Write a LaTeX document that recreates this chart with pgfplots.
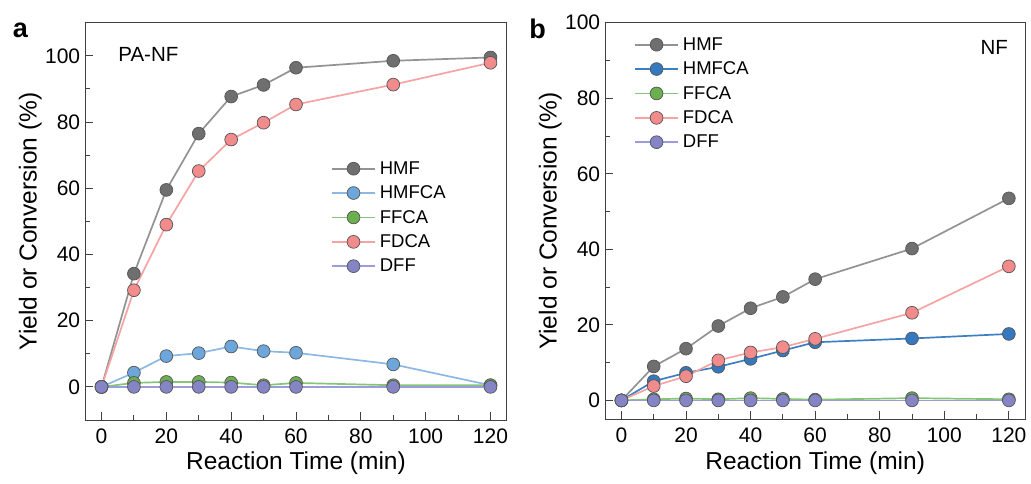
\documentclass[border=0pt]{standalone}
\usepackage{fontspec}
\setmainfont{Liberation Sans}
\usepackage{pgfplots}
\usepackage{pgfplotstable}
\pgfplotsset{compat=1.18}

\definecolor{axc}{HTML}{404040}
\definecolor{edg}{HTML}{555555}
\definecolor{hmfL}{HTML}{939393}\definecolor{hmfF}{HTML}{6F6F6F}
\definecolor{hcaL}{HTML}{8DB8E3}\definecolor{hcaF}{HTML}{6CA6DB}
\definecolor{hcbL}{HTML}{3C7FC2}\definecolor{hcbF}{HTML}{3479C0}
\definecolor{ffL}{HTML}{86C47A}\definecolor{ffF}{HTML}{6AB04F}
\definecolor{fdL}{HTML}{F5A3A3}\definecolor{fdF}{HTML}{F28B8B}
\definecolor{dfL}{HTML}{9C9CD8}\definecolor{dfF}{HTML}{8585C6}

\pgfplotstableread{
t hmf hmfca ffca fdca dff
0 0 0 0 0 0
10 34.2 4.3 1.2 29.2 0
20 59.5 9.3 1.5 49.0 0
30 76.5 10.2 1.5 65.2 0
40 87.7 12.2 1.3 74.7 0
50 91.2 10.8 0.5 79.8 0
60 96.4 10.3 1.2 85.3 0
90 98.5 6.8 0.5 91.3 0
120 99.5 0.5 0.5 97.9 0
}\tabA

\pgfplotstableread{
t hmf hmfca ffca fdca dff
0 0 0 0 0 0
10 9.0 5.1 0.3 3.8 0
20 13.7 7.3 0.5 6.4 0
30 19.7 8.9 0.3 10.6 0
40 24.4 11.0 0.6 12.7 0
50 27.4 13.2 0.4 14.1 0
60 32.1 15.4 0.2 16.3 0
90 40.2 16.4 0.6 23.2 0
120 53.5 17.6 0.3 35.5 0
}\tabB

\pgfplotsset{
  base/.style={scale only axis, xmin=-5, xmax=125, xtick={0,20,...,120},
    minor x tick num=1, minor y tick num=1, tick align=inside, tick pos=left,
    major tick length=8pt, minor tick length=5pt,
    axis line style={draw=axc, line width=1pt},
    every tick/.append style={draw=axc, line width=1pt},
    tick label style={font=\fontsize{21}{24}\selectfont},
    /pgf/number format/assume math mode=true,
    xticklabel style={yshift=-5pt}, yticklabel style={xshift=-1.6pt},
    xlabel={Reaction Time (min)}, ylabel={Yield or Conversion (\%)},
    label style={font=\fontsize{24.5}{28}\selectfont},
    xlabel style={at={(axis description cs:0.5,0)}, anchor=north, yshift=-32pt, inner sep=0pt},
    ylabel style={at={([xshift=-55pt]axis description cs:0,0.5)}, anchor=center, inner sep=0pt},
    legend style={draw=none, fill=none, anchor=north west, inner sep=0pt, row sep=2pt,
      font=\fontsize{18.5}{20}\selectfont, nodes={inner sep=4pt}},
    legend cell align=left,
    legend image code/.code={\draw[mark repeat=2,mark phase=2,##1] plot coordinates {(0pt,0pt) (21.5pt,0pt) (43pt,0pt)};},
  },
  ser/.style n args={2}{color=#1, line width=1.7pt, mark=*, mark size=6.4pt,
    mark options={fill=#2, draw=edg, line width=0.7pt, solid}},
}

\begin{document}
\begin{tikzpicture}
\useasboundingbox (0,0) rectangle (1031pt,483pt);
\begin{axis}[base, at={(85.3pt,63pt)}, anchor=south west, width=421.4pt, height=397.3pt,
  ymin=-10, ymax=110, ytick={0,20,...,100},
  legend style={at={(axis description cs:0.583,0.661)}}]
\addplot[ser={hmfL}{hmfF}] table[x=t,y=hmf]{\tabA};
\addplot[ser={hcaL}{hcaF}] table[x=t,y=hmfca]{\tabA};
\addplot[ser={ffL}{ffF}] table[x=t,y=ffca]{\tabA};
\addplot[ser={fdL}{fdF}] table[x=t,y=fdca]{\tabA};
\addplot[ser={dfL}{dfF}] table[x=t,y=dff]{\tabA};
\legend{HMF,HMFCA,FFCA,FDCA,DFF}
\node[anchor=west, inner sep=0pt, font=\fontsize{20.5}{24}\selectfont] at (axis description cs:0.078,0.921) {PA-NF};
\end{axis}
\begin{axis}[base, at={(605.3pt,63.7pt)}, anchor=south west, width=419.7pt, height=396.6pt,
  ymin=-5, ymax=100, ytick={0,20,...,100},
  legend style={at={(axis description cs:0.0684,0.973)}}]
\addplot[ser={hmfL}{hmfF}] table[x=t,y=hmf]{\tabB};
\addplot[ser={hcbL}{hcbF}] table[x=t,y=hmfca]{\tabB};
\addplot[ser={ffL}{ffF}] table[x=t,y=ffca]{\tabB};
\addplot[ser={fdL}{fdF}] table[x=t,y=fdca]{\tabB};
\addplot[ser={dfL}{dfF}] table[x=t,y=dff]{\tabB};
\legend{HMF,HMFCA,FFCA,FDCA,DFF}
\node[anchor=east, inner sep=0pt, font=\fontsize{20.5}{24}\selectfont] at (axis description cs:0.960,0.9375) {NF};
\end{axis}
\node[font=\fontsize{27}{30}\selectfont\bfseries, inner sep=0pt] at (20.5pt,452.5pt) {a};
\node[font=\fontsize{27}{30}\selectfont\bfseries, inner sep=0pt] at (537.5pt,454pt) {b};
\end{tikzpicture}
\end{document}
